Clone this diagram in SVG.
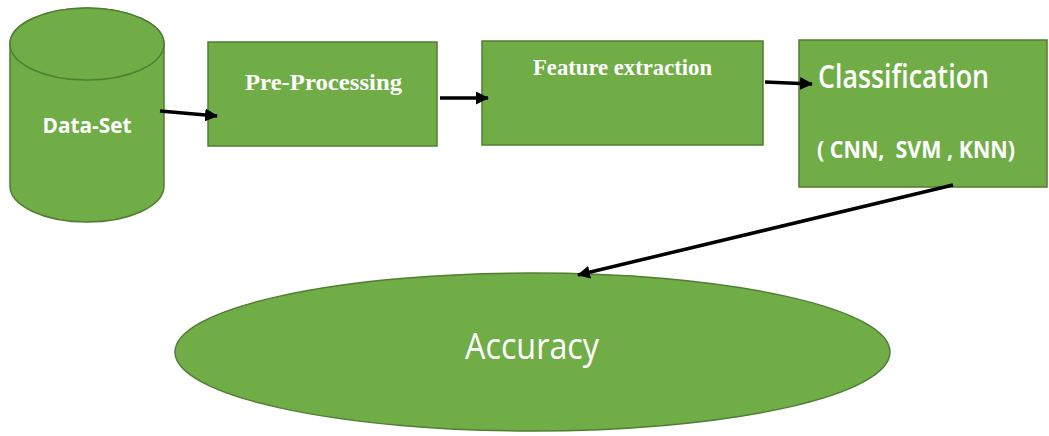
<svg xmlns="http://www.w3.org/2000/svg" width="1049" height="436" viewBox="0 0 1049 436">
  <style>
    .shape { fill: #70AD47; stroke: #507E32; stroke-width: 1.5; }
    .conn { stroke: #000; stroke-width: 3.5; fill: none; marker-end: url(#arrow); }
    .sans { font-family: "Open Sans", "Liberation Sans", sans-serif; fill: #fff; }
    .serif { font-family: "Liberation Serif", "Times New Roman", serif; font-weight: bold; fill: #fff; }
  </style>
  <defs>
    <marker id="arrow" markerUnits="userSpaceOnUse" markerWidth="13" markerHeight="13" refX="12" refY="6.5" orient="auto">
      <path d="M0,0 L13,6.5 L0,13 z" fill="#000"/>
    </marker>
  </defs>
  <rect width="1049" height="436" fill="#fff"/>

  <g id="dataset">
    <path class="shape" d="M10,44 L10,186 A77,36 0 0 0 164,186 L164,44 A77,36 0 0 0 10,44 Z"/>
    <path class="shape" d="M10,44 A77,36 0 0 0 164,44 A77,36 0 0 0 10,44 Z"/>
    <text class="sans" x="87" y="133" font-size="22" font-weight="bold" text-anchor="middle" textLength="89" lengthAdjust="spacingAndGlyphs">Data-Set</text>
  </g>

  <g id="preprocessing">
    <rect class="shape" x="208" y="42" width="229" height="104"/>
    <text class="serif" x="245" y="90" font-size="24" textLength="157" lengthAdjust="spacingAndGlyphs">Pre-Processing</text>
  </g>

  <g id="feature">
    <rect class="shape" x="482" y="41" width="281" height="104"/>
    <text class="serif" x="533" y="75" font-size="23" textLength="179" lengthAdjust="spacingAndGlyphs">Feature extraction</text>
  </g>

  <g id="classification">
    <rect class="shape" x="799" y="40" width="248" height="147"/>
    <text class="sans" x="818" y="88" font-size="32" font-weight="600" textLength="171" lengthAdjust="spacingAndGlyphs">Classification</text>
    <text class="sans" x="817" y="158" font-size="24" font-weight="bold" xml:space="preserve" textLength="198" lengthAdjust="spacingAndGlyphs">( CNN,  SVM , KNN)</text>
  </g>

  <g id="accuracy">
    <ellipse class="shape" cx="532.5" cy="352" rx="357.5" ry="79"/>
    <text class="sans" x="465" y="359" font-size="37" textLength="134" lengthAdjust="spacingAndGlyphs">Accuracy</text>
  </g>

  <g id="connectors">
    <line class="conn" x1="160" y1="111" x2="217" y2="116"/>
    <line class="conn" x1="440" y1="98" x2="488" y2="98"/>
    <line class="conn" x1="765" y1="82" x2="812" y2="84"/>
    <line class="conn" x1="953" y1="185" x2="578" y2="275"/>
  </g>
</svg>
